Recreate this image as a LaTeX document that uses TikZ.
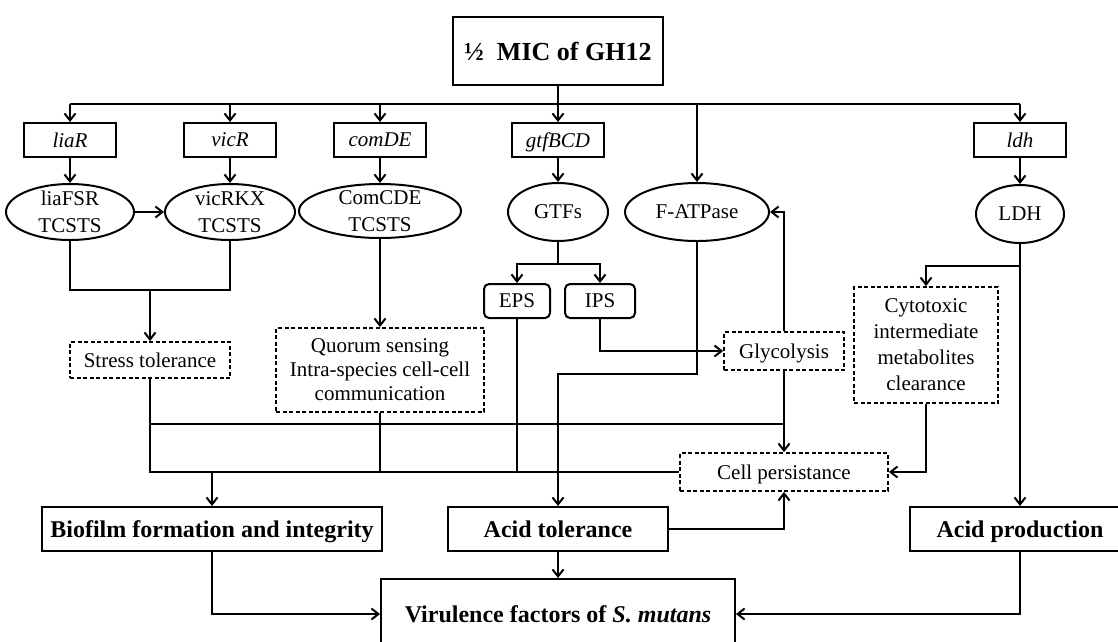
\documentclass[tikz,border=0pt]{standalone}
\usepackage{fontspec}
\setmainfont{Liberation Serif}
\usetikzlibrary{arrows.meta,shapes.geometric}

\begin{document}
\begin{tikzpicture}[
  x=1pt, y=-1pt,
  >={Straight Barb[length=7pt,width=11pt]},
  line width=2pt,
  base/.style={
    draw=black,
    line width=2pt,
    align=center,
    inner sep=0pt,
    text depth=0pt,
    font=\fontsize{21}{24}\selectfont
  },
  gene/.style={base, minimum width=92pt, minimum height=34pt,
    font=\fontsize{21}{24}\selectfont\itshape},
  prot/.style={base, ellipse, inner ysep=-3pt,
    font=\fontsize{21}{27}\selectfont},
  poly/.style={base, rounded corners=5pt, minimum height=34pt},
  effect/.style={base, line width=1.8pt, dash pattern=on 4pt off 2.5pt},
  outcome/.style={base, minimum height=44pt,
    font=\fontsize{24}{28}\selectfont\bfseries},
  arr/.style={->},
]
\useasboundingbox (0,0) rectangle (1118,641);
\clip (0,0) rectangle (1118,641);

% Treatment.
\node[base, minimum width=210pt, minimum height=68pt,
      font=\fontsize{26}{30}\selectfont\bfseries] (mic) at (558,51) {½\ \ MIC of GH12};
\coordinate (bus) at (558,104);

% Genes.
\node[gene] (liaR) at (70,140) {liaR};
\node[gene] (vicR) at (230,140) {vicR};
\node[gene] (comDE) at (380,140) {comDE};
\node[gene] (gtfBCD) at (558,140) {gtfBCD};
\node[gene] (ldh) at (1020,140) {ldh};

% Proteins.
\node[prot, minimum width=128pt, minimum height=56pt] (liaFSR) at (70,212) {liaFSR\\TCSTS};
\node[prot, minimum width=130pt, minimum height=56pt] (vicRKX) at (230,212) {vicRKX\\TCSTS};
\node[prot, minimum width=162pt, minimum height=54pt] (comCDE) at (380,211) {ComCDE\\TCSTS};
\node[prot, minimum width=100pt, minimum height=58pt] (gtfs) at (558,212) {GTFs};
\node[prot, minimum width=144pt, minimum height=58pt] (fatpase) at (697,212) {F-ATPase};
\node[prot, minimum width=88pt, minimum height=58pt] (ldhE) at (1020,214) {LDH};

% Polysaccharides.
\node[poly, minimum width=66pt] (eps) at (517,301) {EPS};
\node[poly, minimum width=70pt] (ips) at (600,301) {IPS};

% Effects.
\node[effect, minimum width=160pt, minimum height=36pt] (stress) at (150,360) {Stress tolerance};
\node[effect, minimum width=208pt, minimum height=84pt] (quorum) at (380,370)
  {Quorum sensing\\Intra-species cell-cell\\communication};
\node[effect, minimum width=120pt, minimum height=38pt] (glyco) at (784,351) {Glycolysis};
\node[effect, minimum width=144pt, minimum height=116pt,
      font=\fontsize{21}{26}\selectfont] (cyto) at (926,345)
  {Cytotoxic\\intermediate\\metabolites\\clearance};
\node[effect, minimum width=208pt, minimum height=38pt] (persist) at (784,472) {Cell persistance};

% Outcomes.
\node[outcome, minimum width=340pt] (biofilm) at (212,529) {Biofilm formation and integrity};
\node[outcome, minimum width=220pt] (acidtol) at (558,529) {Acid tolerance};
\node[outcome, minimum width=220pt] (acidprod) at (1020,529) {Acid production};
\node[outcome, minimum width=354pt, minimum height=70pt] (vir) at (558,614)
  {Virulence factors of \textit{S. mutans}};

% Treatment to genes.
\draw (mic) -- (bus);
\draw (liaR.north |- bus) -- (ldh.north |- bus);
\foreach \g in {liaR,vicR,comDE,gtfBCD,ldh}
  \draw[arr] (\g.north |- bus) -- (\g);
\draw[arr] (fatpase.north |- bus) -- (fatpase);

% Genes to proteins.
\draw[arr] (liaR) -- (liaFSR);
\draw[arr] (vicR) -- (vicRKX);
\draw[arr] (comDE) -- (comCDE);
\draw[arr] (gtfBCD) -- (gtfs);
\draw[arr] (ldh) -- (ldhE);
\draw[arr] (liaFSR) -- (vicRKX);

% TCSTS to phenotypes.
\coordinate (tcs) at (150,290);
\draw (liaFSR.south) |- (tcs) -| (vicRKX.south);
\draw[arr] (tcs) -- (stress);
\draw[arr] (comCDE) -- (quorum);

% GTFs and F-ATPase.
\draw[arr] (gtfs.south) -- ++(0,22) -| (eps);
\draw[arr] (gtfs.south) -- ++(0,22) -| (ips);
\draw[arr] (ips) |- (glyco);
\draw[arr] (glyco.north) |- (fatpase.east);
\draw[arr] (fatpase.south) -- ++(0,132) -| (acidtol.north);

% LDH.
\draw[arr] (ldhE) -- (acidprod);
\draw[arr] (ldhE.south) ++(0,22) -| (cyto.north);
\draw[arr] (cyto.south) |- (persist.east);

% Cell persistance.
\coordinate (glyjoin) at (784,424);
\draw[arr] (glyco) -- (persist);
\draw (stress.south) |- (glyjoin);
\draw (stress.south) |- (persist.west);
\draw (quorum.south) -- (quorum.south |- persist.west);
\draw (eps.south) -- (eps.south |- persist.west);
\draw[arr] (biofilm.north |- persist.west) -- (biofilm);
\draw[arr] (acidtol.east) -| (persist.south);

% Virulence.
\draw[arr] (biofilm.south) |- (vir.west);
\draw[arr] (acidtol) -- (vir);
\draw[arr] (acidprod.south) |- (vir.east);

\end{tikzpicture}
\end{document}
